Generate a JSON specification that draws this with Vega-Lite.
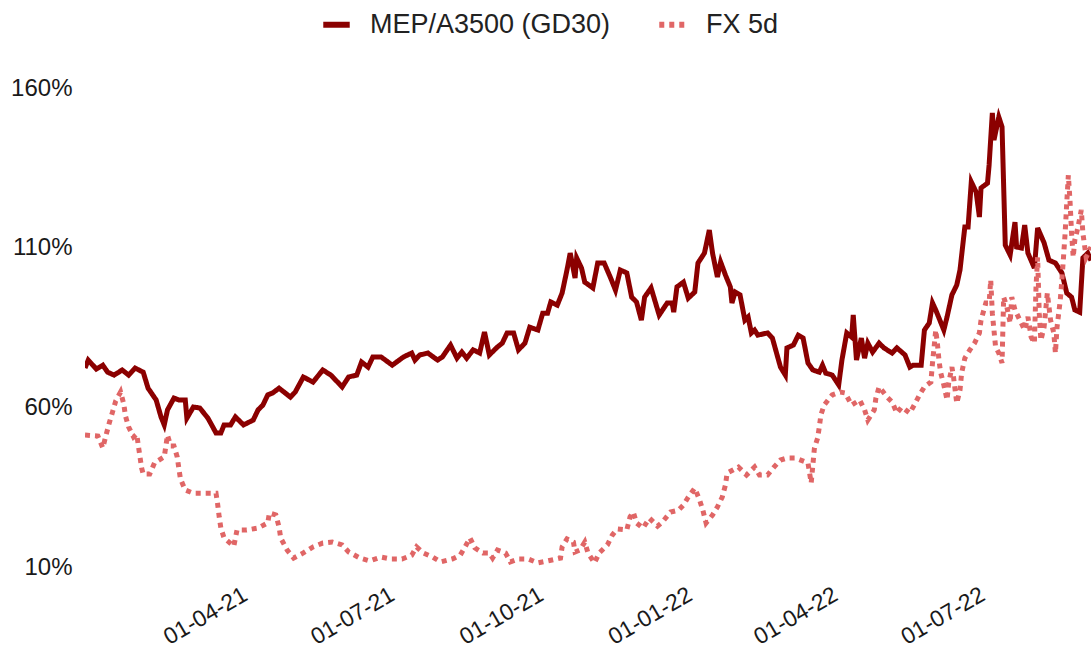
{
"$schema": "https://vega.github.io/schema/vega-lite/v6.json",
"width": 1006,
"height": 479,
"autosize": {"type": "none"},
"padding": {"left": 85, "top": 88, "right": 0, "bottom": 84},
"background": "white",
"config": {"view": {"stroke": null}, "font": "Liberation Sans"},
"data": {"values": [
{"date":"2020-12-24","series":"MEP/A3500 (GD30)","value":72.3},
{"date":"2020-12-26","series":"MEP/A3500 (GD30)","value":74.8},
{"date":"2020-12-31","series":"MEP/A3500 (GD30)","value":72.0},
{"date":"2021-01-04","series":"MEP/A3500 (GD30)","value":73.2},
{"date":"2021-01-07","series":"MEP/A3500 (GD30)","value":71.0},
{"date":"2021-01-11","series":"MEP/A3500 (GD30)","value":70.1},
{"date":"2021-01-16","series":"MEP/A3500 (GD30)","value":71.7},
{"date":"2021-01-20","series":"MEP/A3500 (GD30)","value":70.1},
{"date":"2021-01-24","series":"MEP/A3500 (GD30)","value":72.3},
{"date":"2021-01-29","series":"MEP/A3500 (GD30)","value":71.0},
{"date":"2021-02-01","series":"MEP/A3500 (GD30)","value":66.0},
{"date":"2021-02-06","series":"MEP/A3500 (GD30)","value":62.3},
{"date":"2021-02-09","series":"MEP/A3500 (GD30)","value":57.0},
{"date":"2021-02-11","series":"MEP/A3500 (GD30)","value":54.5},
{"date":"2021-02-13","series":"MEP/A3500 (GD30)","value":59.2},
{"date":"2021-02-17","series":"MEP/A3500 (GD30)","value":62.9},
{"date":"2021-02-20","series":"MEP/A3500 (GD30)","value":62.3},
{"date":"2021-02-24","series":"MEP/A3500 (GD30)","value":62.3},
{"date":"2021-02-25","series":"MEP/A3500 (GD30)","value":56.6},
{"date":"2021-03-01","series":"MEP/A3500 (GD30)","value":60.1},
{"date":"2021-03-05","series":"MEP/A3500 (GD30)","value":59.8},
{"date":"2021-03-10","series":"MEP/A3500 (GD30)","value":56.6},
{"date":"2021-03-15","series":"MEP/A3500 (GD30)","value":52.0},
{"date":"2021-03-18","series":"MEP/A3500 (GD30)","value":52.0},
{"date":"2021-03-20","series":"MEP/A3500 (GD30)","value":54.5},
{"date":"2021-03-24","series":"MEP/A3500 (GD30)","value":54.5},
{"date":"2021-03-27","series":"MEP/A3500 (GD30)","value":57.0},
{"date":"2021-04-01","series":"MEP/A3500 (GD30)","value":54.5},
{"date":"2021-04-07","series":"MEP/A3500 (GD30)","value":56.0},
{"date":"2021-04-10","series":"MEP/A3500 (GD30)","value":59.2},
{"date":"2021-04-13","series":"MEP/A3500 (GD30)","value":60.7},
{"date":"2021-04-16","series":"MEP/A3500 (GD30)","value":63.9},
{"date":"2021-04-19","series":"MEP/A3500 (GD30)","value":64.5},
{"date":"2021-04-23","series":"MEP/A3500 (GD30)","value":66.0},
{"date":"2021-04-30","series":"MEP/A3500 (GD30)","value":63.2},
{"date":"2021-05-03","series":"MEP/A3500 (GD30)","value":64.8},
{"date":"2021-05-08","series":"MEP/A3500 (GD30)","value":69.5},
{"date":"2021-05-14","series":"MEP/A3500 (GD30)","value":67.9},
{"date":"2021-05-20","series":"MEP/A3500 (GD30)","value":71.7},
{"date":"2021-05-25","series":"MEP/A3500 (GD30)","value":70.1},
{"date":"2021-06-01","series":"MEP/A3500 (GD30)","value":66.4},
{"date":"2021-06-05","series":"MEP/A3500 (GD30)","value":69.5},
{"date":"2021-06-10","series":"MEP/A3500 (GD30)","value":70.1},
{"date":"2021-06-13","series":"MEP/A3500 (GD30)","value":74.2},
{"date":"2021-06-17","series":"MEP/A3500 (GD30)","value":72.6},
{"date":"2021-06-20","series":"MEP/A3500 (GD30)","value":75.8},
{"date":"2021-06-25","series":"MEP/A3500 (GD30)","value":75.8},
{"date":"2021-07-02","series":"MEP/A3500 (GD30)","value":73.2},
{"date":"2021-07-09","series":"MEP/A3500 (GD30)","value":75.8},
{"date":"2021-07-14","series":"MEP/A3500 (GD30)","value":77.0},
{"date":"2021-07-16","series":"MEP/A3500 (GD30)","value":74.8},
{"date":"2021-07-19","series":"MEP/A3500 (GD30)","value":76.4},
{"date":"2021-07-24","series":"MEP/A3500 (GD30)","value":77.0},
{"date":"2021-07-30","series":"MEP/A3500 (GD30)","value":74.8},
{"date":"2021-08-02","series":"MEP/A3500 (GD30)","value":75.8},
{"date":"2021-08-07","series":"MEP/A3500 (GD30)","value":79.5},
{"date":"2021-08-11","series":"MEP/A3500 (GD30)","value":75.4},
{"date":"2021-08-14","series":"MEP/A3500 (GD30)","value":77.3},
{"date":"2021-08-17","series":"MEP/A3500 (GD30)","value":75.4},
{"date":"2021-08-21","series":"MEP/A3500 (GD30)","value":78.0},
{"date":"2021-08-25","series":"MEP/A3500 (GD30)","value":77.0},
{"date":"2021-08-28","series":"MEP/A3500 (GD30)","value":83.6},
{"date":"2021-08-31","series":"MEP/A3500 (GD30)","value":76.4},
{"date":"2021-09-05","series":"MEP/A3500 (GD30)","value":78.9},
{"date":"2021-09-08","series":"MEP/A3500 (GD30)","value":80.1},
{"date":"2021-09-11","series":"MEP/A3500 (GD30)","value":83.3},
{"date":"2021-09-15","series":"MEP/A3500 (GD30)","value":83.3},
{"date":"2021-09-18","series":"MEP/A3500 (GD30)","value":78.0},
{"date":"2021-09-22","series":"MEP/A3500 (GD30)","value":80.1},
{"date":"2021-09-25","series":"MEP/A3500 (GD30)","value":85.1},
{"date":"2021-09-30","series":"MEP/A3500 (GD30)","value":84.2},
{"date":"2021-10-03","series":"MEP/A3500 (GD30)","value":89.5},
{"date":"2021-10-06","series":"MEP/A3500 (GD30)","value":89.5},
{"date":"2021-10-08","series":"MEP/A3500 (GD30)","value":93.0},
{"date":"2021-10-12","series":"MEP/A3500 (GD30)","value":92.0},
{"date":"2021-10-15","series":"MEP/A3500 (GD30)","value":95.8},
{"date":"2021-10-18","series":"MEP/A3500 (GD30)","value":103.0},
{"date":"2021-10-20","series":"MEP/A3500 (GD30)","value":108.3},
{"date":"2021-10-23","series":"MEP/A3500 (GD30)","value":100.5},
{"date":"2021-10-24","series":"MEP/A3500 (GD30)","value":106.8},
{"date":"2021-10-27","series":"MEP/A3500 (GD30)","value":103.6},
{"date":"2021-10-29","series":"MEP/A3500 (GD30)","value":99.2},
{"date":"2021-11-03","series":"MEP/A3500 (GD30)","value":97.4},
{"date":"2021-11-06","series":"MEP/A3500 (GD30)","value":105.2},
{"date":"2021-11-10","series":"MEP/A3500 (GD30)","value":105.2},
{"date":"2021-11-14","series":"MEP/A3500 (GD30)","value":100.5},
{"date":"2021-11-17","series":"MEP/A3500 (GD30)","value":96.7},
{"date":"2021-11-20","series":"MEP/A3500 (GD30)","value":103.0},
{"date":"2021-11-24","series":"MEP/A3500 (GD30)","value":102.1},
{"date":"2021-11-27","series":"MEP/A3500 (GD30)","value":94.5},
{"date":"2021-11-30","series":"MEP/A3500 (GD30)","value":93.0},
{"date":"2021-12-03","series":"MEP/A3500 (GD30)","value":87.3},
{"date":"2021-12-05","series":"MEP/A3500 (GD30)","value":94.5},
{"date":"2021-12-09","series":"MEP/A3500 (GD30)","value":97.4},
{"date":"2021-12-14","series":"MEP/A3500 (GD30)","value":88.9},
{"date":"2021-12-19","series":"MEP/A3500 (GD30)","value":92.7},
{"date":"2021-12-22","series":"MEP/A3500 (GD30)","value":92.7},
{"date":"2021-12-23","series":"MEP/A3500 (GD30)","value":89.8},
{"date":"2021-12-25","series":"MEP/A3500 (GD30)","value":97.7},
{"date":"2021-12-29","series":"MEP/A3500 (GD30)","value":99.2},
{"date":"2022-01-01","series":"MEP/A3500 (GD30)","value":94.2},
{"date":"2022-01-05","series":"MEP/A3500 (GD30)","value":96.1},
{"date":"2022-01-07","series":"MEP/A3500 (GD30)","value":105.2},
{"date":"2022-01-11","series":"MEP/A3500 (GD30)","value":108.3},
{"date":"2022-01-14","series":"MEP/A3500 (GD30)","value":115.5},
{"date":"2022-01-16","series":"MEP/A3500 (GD30)","value":108.3},
{"date":"2022-01-19","series":"MEP/A3500 (GD30)","value":100.8},
{"date":"2022-01-21","series":"MEP/A3500 (GD30)","value":105.5},
{"date":"2022-01-24","series":"MEP/A3500 (GD30)","value":101.4},
{"date":"2022-01-27","series":"MEP/A3500 (GD30)","value":97.7},
{"date":"2022-01-28","series":"MEP/A3500 (GD30)","value":92.7},
{"date":"2022-01-30","series":"MEP/A3500 (GD30)","value":96.1},
{"date":"2022-02-02","series":"MEP/A3500 (GD30)","value":95.2},
{"date":"2022-02-05","series":"MEP/A3500 (GD30)","value":87.3},
{"date":"2022-02-07","series":"MEP/A3500 (GD30)","value":88.3},
{"date":"2022-02-09","series":"MEP/A3500 (GD30)","value":83.3},
{"date":"2022-02-11","series":"MEP/A3500 (GD30)","value":84.2},
{"date":"2022-02-13","series":"MEP/A3500 (GD30)","value":82.6},
{"date":"2022-02-19","series":"MEP/A3500 (GD30)","value":83.3},
{"date":"2022-02-22","series":"MEP/A3500 (GD30)","value":81.7},
{"date":"2022-02-27","series":"MEP/A3500 (GD30)","value":72.6},
{"date":"2022-03-02","series":"MEP/A3500 (GD30)","value":70.1},
{"date":"2022-03-03","series":"MEP/A3500 (GD30)","value":78.6},
{"date":"2022-03-07","series":"MEP/A3500 (GD30)","value":79.5},
{"date":"2022-03-10","series":"MEP/A3500 (GD30)","value":82.6},
{"date":"2022-03-13","series":"MEP/A3500 (GD30)","value":81.7},
{"date":"2022-03-16","series":"MEP/A3500 (GD30)","value":73.9},
{"date":"2022-03-19","series":"MEP/A3500 (GD30)","value":71.7},
{"date":"2022-03-23","series":"MEP/A3500 (GD30)","value":71.0},
{"date":"2022-03-25","series":"MEP/A3500 (GD30)","value":73.2},
{"date":"2022-03-27","series":"MEP/A3500 (GD30)","value":70.7},
{"date":"2022-03-31","series":"MEP/A3500 (GD30)","value":70.1},
{"date":"2022-04-04","series":"MEP/A3500 (GD30)","value":67.0},
{"date":"2022-04-06","series":"MEP/A3500 (GD30)","value":74.8},
{"date":"2022-04-09","series":"MEP/A3500 (GD30)","value":83.3},
{"date":"2022-04-12","series":"MEP/A3500 (GD30)","value":82.0},
{"date":"2022-04-13","series":"MEP/A3500 (GD30)","value":88.9},
{"date":"2022-04-15","series":"MEP/A3500 (GD30)","value":74.8},
{"date":"2022-04-18","series":"MEP/A3500 (GD30)","value":81.7},
{"date":"2022-04-20","series":"MEP/A3500 (GD30)","value":75.4},
{"date":"2022-04-22","series":"MEP/A3500 (GD30)","value":80.1},
{"date":"2022-04-25","series":"MEP/A3500 (GD30)","value":77.3},
{"date":"2022-04-29","series":"MEP/A3500 (GD30)","value":80.1},
{"date":"2022-05-02","series":"MEP/A3500 (GD30)","value":78.6},
{"date":"2022-05-07","series":"MEP/A3500 (GD30)","value":77.0},
{"date":"2022-05-10","series":"MEP/A3500 (GD30)","value":78.6},
{"date":"2022-05-15","series":"MEP/A3500 (GD30)","value":76.4},
{"date":"2022-05-18","series":"MEP/A3500 (GD30)","value":72.6},
{"date":"2022-05-20","series":"MEP/A3500 (GD30)","value":73.2},
{"date":"2022-05-25","series":"MEP/A3500 (GD30)","value":73.2},
{"date":"2022-05-27","series":"MEP/A3500 (GD30)","value":84.2},
{"date":"2022-05-30","series":"MEP/A3500 (GD30)","value":86.4},
{"date":"2022-06-01","series":"MEP/A3500 (GD30)","value":92.7},
{"date":"2022-06-03","series":"MEP/A3500 (GD30)","value":90.5},
{"date":"2022-06-08","series":"MEP/A3500 (GD30)","value":84.2},
{"date":"2022-06-10","series":"MEP/A3500 (GD30)","value":88.3},
{"date":"2022-06-13","series":"MEP/A3500 (GD30)","value":95.2},
{"date":"2022-06-16","series":"MEP/A3500 (GD30)","value":98.3},
{"date":"2022-06-18","series":"MEP/A3500 (GD30)","value":103.0},
{"date":"2022-06-21","series":"MEP/A3500 (GD30)","value":116.5},
{"date":"2022-06-23","series":"MEP/A3500 (GD30)","value":116.5},
{"date":"2022-06-25","series":"MEP/A3500 (GD30)","value":130.6},
{"date":"2022-06-28","series":"MEP/A3500 (GD30)","value":127.4},
{"date":"2022-06-30","series":"MEP/A3500 (GD30)","value":119.6},
{"date":"2022-07-01","series":"MEP/A3500 (GD30)","value":128.7},
{"date":"2022-07-05","series":"MEP/A3500 (GD30)","value":130.2},
{"date":"2022-07-06","series":"MEP/A3500 (GD30)","value":135.9},
{"date":"2022-07-08","series":"MEP/A3500 (GD30)","value":152.2},
{"date":"2022-07-09","series":"MEP/A3500 (GD30)","value":143.7},
{"date":"2022-07-12","series":"MEP/A3500 (GD30)","value":150.9},
{"date":"2022-07-14","series":"MEP/A3500 (GD30)","value":147.8},
{"date":"2022-07-16","series":"MEP/A3500 (GD30)","value":110.8},
{"date":"2022-07-19","series":"MEP/A3500 (GD30)","value":107.7},
{"date":"2022-07-22","series":"MEP/A3500 (GD30)","value":118.0},
{"date":"2022-07-23","series":"MEP/A3500 (GD30)","value":110.2},
{"date":"2022-07-26","series":"MEP/A3500 (GD30)","value":109.9},
{"date":"2022-07-28","series":"MEP/A3500 (GD30)","value":117.1},
{"date":"2022-07-30","series":"MEP/A3500 (GD30)","value":108.3},
{"date":"2022-08-03","series":"MEP/A3500 (GD30)","value":103.6},
{"date":"2022-08-05","series":"MEP/A3500 (GD30)","value":116.2},
{"date":"2022-08-09","series":"MEP/A3500 (GD30)","value":111.5},
{"date":"2022-08-12","series":"MEP/A3500 (GD30)","value":106.1},
{"date":"2022-08-16","series":"MEP/A3500 (GD30)","value":105.2},
{"date":"2022-08-20","series":"MEP/A3500 (GD30)","value":102.1},
{"date":"2022-08-23","series":"MEP/A3500 (GD30)","value":95.8},
{"date":"2022-08-26","series":"MEP/A3500 (GD30)","value":94.5},
{"date":"2022-08-28","series":"MEP/A3500 (GD30)","value":90.5},
{"date":"2022-08-31","series":"MEP/A3500 (GD30)","value":89.8},
{"date":"2022-09-02","series":"MEP/A3500 (GD30)","value":106.8},
{"date":"2022-09-05","series":"MEP/A3500 (GD30)","value":108.3},
{"date":"2022-09-07","series":"MEP/A3500 (GD30)","value":106.0},
{"date":"2020-12-24","series":"FX 5d","value":51.3},
{"date":"2021-01-01","series":"FX 5d","value":51.0},
{"date":"2021-01-04","series":"FX 5d","value":47.3},
{"date":"2021-01-06","series":"FX 5d","value":51.3},
{"date":"2021-01-08","series":"FX 5d","value":55.1},
{"date":"2021-01-10","series":"FX 5d","value":58.5},
{"date":"2021-01-12","series":"FX 5d","value":62.0},
{"date":"2021-01-15","series":"FX 5d","value":64.8},
{"date":"2021-01-17","series":"FX 5d","value":61.0},
{"date":"2021-01-18","series":"FX 5d","value":57.3},
{"date":"2021-01-20","series":"FX 5d","value":53.8},
{"date":"2021-01-23","series":"FX 5d","value":50.7},
{"date":"2021-01-25","series":"FX 5d","value":51.6},
{"date":"2021-01-26","series":"FX 5d","value":47.9},
{"date":"2021-01-27","series":"FX 5d","value":44.5},
{"date":"2021-01-28","series":"FX 5d","value":41.0},
{"date":"2021-01-29","series":"FX 5d","value":39.1},
{"date":"2021-02-02","series":"FX 5d","value":39.1},
{"date":"2021-02-05","series":"FX 5d","value":42.6},
{"date":"2021-02-11","series":"FX 5d","value":44.5},
{"date":"2021-02-13","series":"FX 5d","value":51.3},
{"date":"2021-02-15","series":"FX 5d","value":47.9},
{"date":"2021-02-17","series":"FX 5d","value":47.9},
{"date":"2021-02-19","series":"FX 5d","value":44.5},
{"date":"2021-02-20","series":"FX 5d","value":41.0},
{"date":"2021-02-21","series":"FX 5d","value":37.6},
{"date":"2021-02-24","series":"FX 5d","value":34.1},
{"date":"2021-03-01","series":"FX 5d","value":33.1},
{"date":"2021-03-07","series":"FX 5d","value":33.1},
{"date":"2021-03-15","series":"FX 5d","value":33.1},
{"date":"2021-03-16","series":"FX 5d","value":29.7},
{"date":"2021-03-17","series":"FX 5d","value":25.6},
{"date":"2021-03-18","series":"FX 5d","value":22.2},
{"date":"2021-03-20","series":"FX 5d","value":19.1},
{"date":"2021-03-26","series":"FX 5d","value":16.5},
{"date":"2021-03-28","series":"FX 5d","value":21.6},
{"date":"2021-04-03","series":"FX 5d","value":21.6},
{"date":"2021-04-10","series":"FX 5d","value":22.2},
{"date":"2021-04-16","series":"FX 5d","value":23.8},
{"date":"2021-04-17","series":"FX 5d","value":26.9},
{"date":"2021-04-21","series":"FX 5d","value":26.3},
{"date":"2021-04-23","series":"FX 5d","value":22.5},
{"date":"2021-04-24","series":"FX 5d","value":19.1},
{"date":"2021-04-28","series":"FX 5d","value":15.3},
{"date":"2021-05-02","series":"FX 5d","value":12.8},
{"date":"2021-05-08","series":"FX 5d","value":14.4},
{"date":"2021-05-14","series":"FX 5d","value":16.3},
{"date":"2021-05-20","series":"FX 5d","value":17.5},
{"date":"2021-05-26","series":"FX 5d","value":17.8},
{"date":"2021-06-01","series":"FX 5d","value":16.9},
{"date":"2021-06-05","series":"FX 5d","value":14.7},
{"date":"2021-06-12","series":"FX 5d","value":12.8},
{"date":"2021-06-18","series":"FX 5d","value":11.9},
{"date":"2021-06-25","series":"FX 5d","value":13.1},
{"date":"2021-07-01","series":"FX 5d","value":12.5},
{"date":"2021-07-08","series":"FX 5d","value":12.5},
{"date":"2021-07-14","series":"FX 5d","value":13.7},
{"date":"2021-07-17","series":"FX 5d","value":16.3},
{"date":"2021-07-21","series":"FX 5d","value":14.4},
{"date":"2021-07-27","series":"FX 5d","value":13.1},
{"date":"2021-08-01","series":"FX 5d","value":11.6},
{"date":"2021-08-08","series":"FX 5d","value":12.5},
{"date":"2021-08-13","series":"FX 5d","value":13.7},
{"date":"2021-08-16","series":"FX 5d","value":16.3},
{"date":"2021-08-19","series":"FX 5d","value":19.1},
{"date":"2021-08-22","series":"FX 5d","value":16.0},
{"date":"2021-08-27","series":"FX 5d","value":14.4},
{"date":"2021-08-31","series":"FX 5d","value":14.4},
{"date":"2021-09-02","series":"FX 5d","value":12.8},
{"date":"2021-09-05","series":"FX 5d","value":15.3},
{"date":"2021-09-10","series":"FX 5d","value":14.4},
{"date":"2021-09-13","series":"FX 5d","value":11.6},
{"date":"2021-09-18","series":"FX 5d","value":12.5},
{"date":"2021-09-24","series":"FX 5d","value":12.5},
{"date":"2021-09-30","series":"FX 5d","value":11.3},
{"date":"2021-10-06","series":"FX 5d","value":11.9},
{"date":"2021-10-14","series":"FX 5d","value":12.8},
{"date":"2021-10-15","series":"FX 5d","value":16.3},
{"date":"2021-10-18","series":"FX 5d","value":18.8},
{"date":"2021-10-22","series":"FX 5d","value":17.8},
{"date":"2021-10-23","series":"FX 5d","value":14.7},
{"date":"2021-10-26","series":"FX 5d","value":15.3},
{"date":"2021-10-29","series":"FX 5d","value":17.8},
{"date":"2021-10-31","series":"FX 5d","value":14.4},
{"date":"2021-11-04","series":"FX 5d","value":11.3},
{"date":"2021-11-07","series":"FX 5d","value":14.4},
{"date":"2021-11-12","series":"FX 5d","value":16.9},
{"date":"2021-11-15","series":"FX 5d","value":20.0},
{"date":"2021-11-18","series":"FX 5d","value":21.9},
{"date":"2021-11-24","series":"FX 5d","value":21.6},
{"date":"2021-11-26","series":"FX 5d","value":25.7},
{"date":"2021-11-28","series":"FX 5d","value":27.2},
{"date":"2021-11-30","series":"FX 5d","value":23.8},
{"date":"2021-12-04","series":"FX 5d","value":22.2},
{"date":"2021-12-08","series":"FX 5d","value":25.3},
{"date":"2021-12-13","series":"FX 5d","value":22.8},
{"date":"2021-12-16","series":"FX 5d","value":24.1},
{"date":"2021-12-21","series":"FX 5d","value":27.2},
{"date":"2021-12-26","series":"FX 5d","value":27.8},
{"date":"2021-12-29","series":"FX 5d","value":29.4},
{"date":"2022-01-01","series":"FX 5d","value":31.9},
{"date":"2022-01-05","series":"FX 5d","value":34.7},
{"date":"2022-01-08","series":"FX 5d","value":31.0},
{"date":"2022-01-10","series":"FX 5d","value":27.8},
{"date":"2022-01-12","series":"FX 5d","value":23.8},
{"date":"2022-01-16","series":"FX 5d","value":26.3},
{"date":"2022-01-19","series":"FX 5d","value":28.8},
{"date":"2022-01-22","series":"FX 5d","value":31.9},
{"date":"2022-01-24","series":"FX 5d","value":35.7},
{"date":"2022-01-25","series":"FX 5d","value":39.4},
{"date":"2022-02-01","series":"FX 5d","value":41.3},
{"date":"2022-02-06","series":"FX 5d","value":38.8},
{"date":"2022-02-11","series":"FX 5d","value":41.3},
{"date":"2022-02-14","series":"FX 5d","value":38.8},
{"date":"2022-02-19","series":"FX 5d","value":38.8},
{"date":"2022-02-23","series":"FX 5d","value":41.3},
{"date":"2022-02-27","series":"FX 5d","value":43.5},
{"date":"2022-03-03","series":"FX 5d","value":44.1},
{"date":"2022-03-08","series":"FX 5d","value":44.1},
{"date":"2022-03-16","series":"FX 5d","value":42.6},
{"date":"2022-03-18","series":"FX 5d","value":36.3},
{"date":"2022-03-20","series":"FX 5d","value":47.3},
{"date":"2022-03-22","series":"FX 5d","value":50.4},
{"date":"2022-03-23","series":"FX 5d","value":53.8},
{"date":"2022-03-24","series":"FX 5d","value":57.6},
{"date":"2022-03-26","series":"FX 5d","value":60.7},
{"date":"2022-03-31","series":"FX 5d","value":63.9},
{"date":"2022-04-05","series":"FX 5d","value":64.8},
{"date":"2022-04-08","series":"FX 5d","value":64.5},
{"date":"2022-04-12","series":"FX 5d","value":60.7},
{"date":"2022-04-17","series":"FX 5d","value":62.3},
{"date":"2022-04-20","series":"FX 5d","value":59.2},
{"date":"2022-04-22","series":"FX 5d","value":56.0},
{"date":"2022-04-26","series":"FX 5d","value":59.2},
{"date":"2022-04-27","series":"FX 5d","value":62.9},
{"date":"2022-04-29","series":"FX 5d","value":66.4},
{"date":"2022-05-04","series":"FX 5d","value":63.2},
{"date":"2022-05-07","series":"FX 5d","value":61.7},
{"date":"2022-05-10","series":"FX 5d","value":58.2},
{"date":"2022-05-13","series":"FX 5d","value":60.1},
{"date":"2022-05-18","series":"FX 5d","value":58.2},
{"date":"2022-05-21","series":"FX 5d","value":61.0},
{"date":"2022-05-24","series":"FX 5d","value":63.9},
{"date":"2022-05-27","series":"FX 5d","value":66.4},
{"date":"2022-05-31","series":"FX 5d","value":67.9},
{"date":"2022-06-01","series":"FX 5d","value":73.9},
{"date":"2022-06-02","series":"FX 5d","value":78.9},
{"date":"2022-06-03","series":"FX 5d","value":84.2},
{"date":"2022-06-04","series":"FX 5d","value":80.1},
{"date":"2022-06-05","series":"FX 5d","value":74.8},
{"date":"2022-06-06","series":"FX 5d","value":71.0},
{"date":"2022-06-08","series":"FX 5d","value":67.0},
{"date":"2022-06-10","series":"FX 5d","value":62.3},
{"date":"2022-06-11","series":"FX 5d","value":67.6},
{"date":"2022-06-13","series":"FX 5d","value":72.6},
{"date":"2022-06-14","series":"FX 5d","value":69.5},
{"date":"2022-06-15","series":"FX 5d","value":65.4},
{"date":"2022-06-16","series":"FX 5d","value":61.3},
{"date":"2022-06-18","series":"FX 5d","value":65.4},
{"date":"2022-06-19","series":"FX 5d","value":70.7},
{"date":"2022-06-21","series":"FX 5d","value":75.4},
{"date":"2022-06-24","series":"FX 5d","value":77.9},
{"date":"2022-06-27","series":"FX 5d","value":80.1},
{"date":"2022-06-30","series":"FX 5d","value":83.3},
{"date":"2022-07-01","series":"FX 5d","value":87.3},
{"date":"2022-07-04","series":"FX 5d","value":92.7},
{"date":"2022-07-06","series":"FX 5d","value":92.7},
{"date":"2022-07-07","series":"FX 5d","value":99.9},
{"date":"2022-07-08","series":"FX 5d","value":89.5},
{"date":"2022-07-09","series":"FX 5d","value":84.2},
{"date":"2022-07-10","series":"FX 5d","value":78.9},
{"date":"2022-07-12","series":"FX 5d","value":77.0},
{"date":"2022-07-14","series":"FX 5d","value":73.9},
{"date":"2022-07-15","series":"FX 5d","value":94.5},
{"date":"2022-07-17","series":"FX 5d","value":91.4},
{"date":"2022-07-19","series":"FX 5d","value":86.4},
{"date":"2022-07-20","series":"FX 5d","value":94.5},
{"date":"2022-07-22","series":"FX 5d","value":90.5},
{"date":"2022-07-25","series":"FX 5d","value":87.3},
{"date":"2022-07-28","series":"FX 5d","value":84.2},
{"date":"2022-07-30","series":"FX 5d","value":88.3},
{"date":"2022-08-01","series":"FX 5d","value":82.0},
{"date":"2022-08-03","series":"FX 5d","value":80.1},
{"date":"2022-08-04","series":"FX 5d","value":97.7},
{"date":"2022-08-05","series":"FX 5d","value":107.0},
{"date":"2022-08-06","series":"FX 5d","value":89.5},
{"date":"2022-08-07","series":"FX 5d","value":81.0},
{"date":"2022-08-09","series":"FX 5d","value":85.1},
{"date":"2022-08-10","series":"FX 5d","value":90.5},
{"date":"2022-08-11","series":"FX 5d","value":95.8},
{"date":"2022-08-13","series":"FX 5d","value":87.3},
{"date":"2022-08-15","series":"FX 5d","value":83.3},
{"date":"2022-08-16","series":"FX 5d","value":77.0},
{"date":"2022-08-17","series":"FX 5d","value":85.1},
{"date":"2022-08-19","series":"FX 5d","value":93.6},
{"date":"2022-08-20","series":"FX 5d","value":99.9},
{"date":"2022-08-21","series":"FX 5d","value":107.0},
{"date":"2022-08-22","series":"FX 5d","value":114.5},
{"date":"2022-08-23","series":"FX 5d","value":124.0},
{"date":"2022-08-24","series":"FX 5d","value":132.7},
{"date":"2022-08-25","series":"FX 5d","value":124.9},
{"date":"2022-08-26","series":"FX 5d","value":114.5},
{"date":"2022-08-27","series":"FX 5d","value":107.0},
{"date":"2022-08-28","series":"FX 5d","value":112.4},
{"date":"2022-08-30","series":"FX 5d","value":116.5},
{"date":"2022-09-01","series":"FX 5d","value":121.8},
{"date":"2022-09-02","series":"FX 5d","value":114.5},
{"date":"2022-09-04","series":"FX 5d","value":107.0},
{"date":"2022-09-07","series":"FX 5d","value":110.2}
]},
"mark": {"type": "line", "clip": true, "strokeWidth": 5, "strokeCap": "butt", "strokeJoin": "miter"},
"encoding": {
  "x": {"field": "date", "type": "temporal",
    "scale": {"type": "utc", "domain": [{"year": 2020, "month": 12, "date": 24, "utc": true}, {"year": 2022, "month": 9, "date": 7, "utc": true}]},
    "axis": {"values": [
      {"year": 2021, "month": 4, "date": 1, "utc": true},
      {"year": 2021, "month": 7, "date": 1, "utc": true},
      {"year": 2021, "month": 10, "date": 1, "utc": true},
      {"year": 2022, "month": 1, "date": 1, "utc": true},
      {"year": 2022, "month": 4, "date": 1, "utc": true},
      {"year": 2022, "month": 7, "date": 1, "utc": true}],
      "format": "%d-%m-%y", "labelAngle": -30, "labelAlign": "right", "labelBaseline": "top",
      "labelFontSize": 23, "labelColor": "#1a1a1a", "labelFont": "Liberation Sans",
      "ticks": false, "tickSize": 0, "domain": false, "grid": false, "title": null, "labelPadding": 16, "labelOffset": -4}},
  "y": {"field": "value", "type": "quantitative",
    "scale": {"domain": [10, 160], "nice": false, "zero": false},
    "axis": {"values": [10, 60, 110, 160], "labelExpr": "datum.value + '%'",
      "labelFontSize": 24, "labelColor": "#1a1a1a", "labelFont": "Liberation Sans",
      "ticks": false, "tickSize": 0, "domain": false, "grid": false, "title": null, "labelPadding": 13}},
  "color": {"field": "series", "type": "nominal",
    "scale": {"domain": ["MEP/A3500 (GD30)", "FX 5d"], "range": ["#8b0000", "#e06666"]},
    "legend": {"orient": "none", "legendX": 235, "legendY": -80, "direction": "horizontal", "title": null,
      "labelFontSize": 27, "labelColor": "#222222", "labelFont": "Liberation Sans", "labelLimit": 0,
      "symbolType": "stroke", "symbolSize": 700, "symbolStrokeWidth": 6,
      "labelOffset": 17, "columnPadding": 36}},
  "strokeDash": {"field": "series", "type": "nominal",
    "scale": {"domain": ["MEP/A3500 (GD30)", "FX 5d"], "range": [[1, 0], [5, 5]]}}
}
}
